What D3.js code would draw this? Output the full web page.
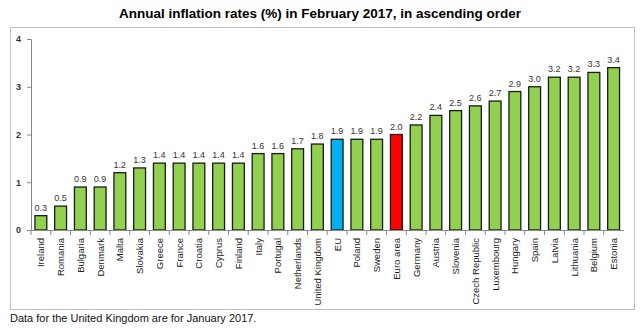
<!DOCTYPE html>
<html>
<head>
<meta charset="utf-8">
<script src="https://cdn.jsdelivr.net/npm/d3@7"></script>
<style>
  body { margin: 0; background: #fff; }
  svg text { font-family: "Liberation Sans", Arial, sans-serif; }
</style>
</head>
<body>
<svg id="chart" width="640" height="328"></svg>
<script>
// data
const countries = ['Ireland', 'Romania', 'Bulgaria', 'Denmark', 'Malta', 'Slovakia', 'Greece', 'France',
  'Croatia', 'Cyprus', 'Finland', 'Italy', 'Portugal', 'Netherlands', 'United Kingdom', 'EU', 'Poland',
  'Sweden', 'Euro area', 'Germany', 'Austria', 'Slovenia', 'Czech Republic', 'Luxembourg', 'Hungary',
  'Spain', 'Latvia', 'Lithuania', 'Belgium', 'Estonia'];
const rates = [0.3, 0.5, 0.9, 0.9, 1.2, 1.3, 1.4, 1.4, 1.4, 1.4, 1.4, 1.6, 1.6, 1.7, 1.8, 1.9, 1.9,
  1.9, 2.0, 2.2, 2.4, 2.5, 2.6, 2.7, 2.9, 3.0, 3.2, 3.2, 3.3, 3.4];
const yTicks = [0, 1, 2, 3, 4];

const data = countries.map((c, i) => ({ country: c, value: rates[i] }));

const svg = d3.select('#chart');

// title
svg.append('text')
  .attr('x', 320).attr('y', 18)
  .attr('text-anchor', 'middle')
  .style('font-weight', 'bold').style('font-size', '13.5px')
  .text('Annual inflation rates (%) in February 2017, in ascending order');

// outer frame
svg.append('rect')
  .attr('x', 10.5).attr('y', 27.5).attr('width', 624).attr('height', 282)
  .attr('fill', 'none').attr('stroke', '#bfbfbf').attr('stroke-width', 1);

// footnote
svg.append('text')
  .attr('x', 10).attr('y', 322)
  .style('font-size', '11px').attr('fill', '#111')
  .text('Data for the United Kingdom are for January 2017.');

const x = d3.scaleBand().domain(countries).range([31, 623.5]).paddingInner(0.4).paddingOuter(0.2);
const y = d3.scaleLinear().domain([0, 4]).range([230, 39]);

const color = d => d.country === 'EU' ? '#00b0f0' : d.country === 'Euro area' ? '#ff0000' : '#92d050';

// y axis
const yAxis = svg.append('g').attr('transform', 'translate(31,0)')
  .call(d3.axisLeft(y).tickValues(yTicks).tickFormat(d3.format('d')).tickSize(4).tickPadding(6));
yAxis.select('.domain').attr('stroke', '#888');
yAxis.selectAll('.tick line').attr('stroke', '#888');
yAxis.selectAll('.tick text').style('font-size', '9px').style('font-weight', 'bold').attr('fill', '#333');

// bars
svg.append('g').selectAll('rect')
  .data(data)
  .enter().append('rect')
  .attr('x', d => x(d.country))
  .attr('y', d => y(d.value))
  .attr('width', x.bandwidth())
  .attr('height', d => y(0) - y(d.value))
  .attr('fill', color)
  .attr('stroke', '#1a1a1a').attr('stroke-width', 1.3);

// value labels
svg.append('g').selectAll('text')
  .data(data)
  .enter().append('text')
  .attr('x', d => x(d.country) + x.bandwidth() / 2)
  .attr('y', d => y(d.value) - 5)
  .attr('text-anchor', 'middle')
  .style('font-size', '9px').attr('fill', '#333')
  .text(d => d.value.toFixed(1));

// x axis baseline and separators
const xg = svg.append('g');
xg.append('line')
  .attr('x1', 31).attr('x2', 623.5).attr('y1', y(0) + 0.5).attr('y2', y(0) + 0.5)
  .attr('stroke', '#888');
xg.selectAll('.sep')
  .data(countries)
  .enter().append('line')
  .attr('x1', d => x(d) - x.step() * 0.2).attr('x2', d => x(d) - x.step() * 0.2)
  .attr('y1', y(0)).attr('y2', y(0) + 5)
  .attr('stroke', '#888');

// category labels
xg.selectAll('.lbl')
  .data(countries)
  .enter().append('text')
  .attr('transform', d => `translate(${x(d) + x.bandwidth() / 2 + 3.5},${y(0) + 8}) rotate(-90)`)
  .attr('text-anchor', 'end')
  .style('font-size', '9.5px').attr('fill', '#222')
  .text(d => d);
</script>
</body>
</html>
